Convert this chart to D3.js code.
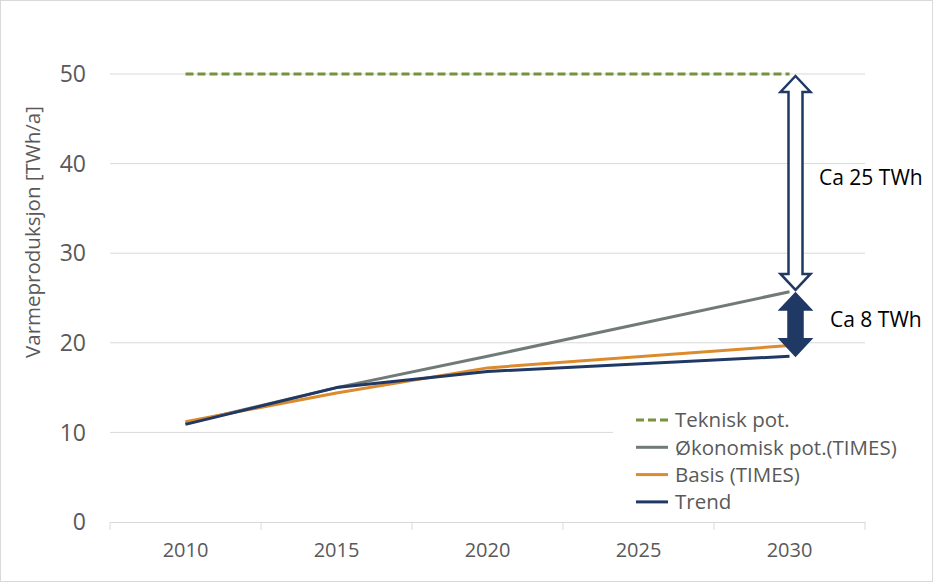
<!DOCTYPE html>
<html><head><meta charset="utf-8">
<script src="https://cdn.jsdelivr.net/npm/d3@7"></script>
<style>body{margin:0;background:#fff}svg{display:block}text{font-family:"Open Sans","Noto Sans",sans-serif}</style>
</head><body>
<script>
const categories = ["2010","2015","2020","2025","2030"];
const yTicks = [0,10,20,30,40,50];
const seriesNames = ["Teknisk pot.","Økonomisk pot.(TIMES)","Basis (TIMES)","Trend"];
const seriesColors = ["#76923C","#6F7A79","#DC8B2C","#1F3864"];
const teknisk = [50,50,50,50,50];
const okonomisk = [11.0,15.0,18.5,null,25.7];
const basis = [11.2,14.4,17.2,null,19.7];
const trend = [10.9,15.0,16.8,null,18.5];
const arrowLabels = ["Ca 25 TWh","Ca 8 TWh"];
const arrowRanges = [[50,25.9],[25.5,18.6]];

const W=934,H=583;
const svg=d3.select("body").append("svg").attr("width",W).attr("height",H);
svg.append("rect").attr("x",0.5).attr("y",0.5).attr("width",W-2).attr("height",H-2).attr("fill","#fff").attr("stroke","#d9d9d9");

const x=d3.scaleBand().domain(categories).range([110,865]);
const y=d3.scaleLinear().domain([0,50]).range([522,74]);

// gridlines
svg.append("g").selectAll("line").data(yTicks.filter(d=>d>0)).join("line")
 .attr("x1",110).attr("x2",865).attr("y1",d=>y(d)).attr("y2",d=>y(d))
 .attr("stroke","#d9d9d9").attr("stroke-width",1);

// y labels
svg.append("g").selectAll("text").data(yTicks).join("text")
 .attr("x",86).attr("y",d=>y(d)).attr("dy","0.36em").attr("text-anchor","end")
 .attr("font-size",23).attr("fill","#595959").text(d=>d);

// x axis
const xa=svg.append("g").attr("transform","translate(0,522)")
 .call(d3.axisBottom(x).tickSize(0).tickPadding(21));
xa.select(".domain").attr("stroke","#d9d9d9");
xa.selectAll("text").attr("font-size",20).attr("fill","#595959").attr("font-family","Open Sans");
const bounds=categories.map(c=>x(c)).concat([x.range()[1]]);
svg.append("g").selectAll("line").data(bounds).join("line")
 .attr("x1",d=>d).attr("x2",d=>d).attr("y1",522).attr("y2",530).attr("stroke","#d9d9d9");

// axis title
svg.append("text").attr("transform","translate(40,232) rotate(-90)").attr("text-anchor","middle")
 .attr("font-size",20.5).attr("fill","#595959").text("Varmeproduksjon [TWh/a]");

// legend background (covers gridline)
svg.append("rect").attr("x",613).attr("y",405).attr("width",300).attr("height",108).attr("fill","#fff");

const cx=c=>x(c)+x.bandwidth()/2;
const line=d3.line().x(d=>cx(d.c)).y(d=>y(d.v));
const allSeries=[teknisk,okonomisk,basis,trend];
allSeries.forEach((s,i)=>{
  const pts=categories.map((c,j)=>({c,v:s[j]})).filter(d=>d.v!=null);
  svg.append("path").datum(pts).attr("d",line).attr("fill","none")
   .attr("stroke",seriesColors[i]).attr("stroke-width",3)
   .attr("stroke-dasharray",i===0?"8,4":null).attr("stroke-linejoin","round");
});

// legend
const lg=svg.append("g");
seriesNames.forEach((n,i)=>{
  const yy=420+i*27.3;
  lg.append("line").attr("x1",636).attr("x2",668).attr("y1",yy).attr("y2",yy)
   .attr("stroke",seriesColors[i]).attr("stroke-width",3).attr("stroke-dasharray",i===0?"8,4":null);
  lg.append("text").attr("x",675).attr("y",yy).attr("dy","0.36em").attr("font-size",20.5)
   .attr("fill","#595959").text(n);
});

// arrows
const ax=cx("2030")+6;
function dblArrow(top,bot,fill){
  const hw=15, sw=7, hh=16;
  const pts=[[ax,top],[ax+hw,top+hh],[ax+sw,top+hh],[ax+sw,bot-hh],[ax+hw,bot-hh],[ax,bot],
   [ax-hw,bot-hh],[ax-sw,bot-hh],[ax-sw,top+hh],[ax-hw,top+hh]];
  svg.append("path").attr("d","M"+pts.map(p=>p.join(",")).join("L")+"Z")
   .attr("fill",fill).attr("stroke","#1F3864").attr("stroke-width",2.5).attr("stroke-linejoin","miter");
}
dblArrow(y(arrowRanges[0][0])+2,y(arrowRanges[0][1]),"#fff");
dblArrow(y(arrowRanges[1][0]),y(arrowRanges[1][1]),"#1F3864");

svg.append("text").attr("x",819).attr("y",177).attr("dy","0.36em")
 .attr("font-size",21).attr("fill","#000").text(arrowLabels[0]);
svg.append("text").attr("x",830).attr("y",319).attr("dy","0.36em")
 .attr("font-size",21).attr("fill","#000").text(arrowLabels[1]);
</script>
</body></html>
